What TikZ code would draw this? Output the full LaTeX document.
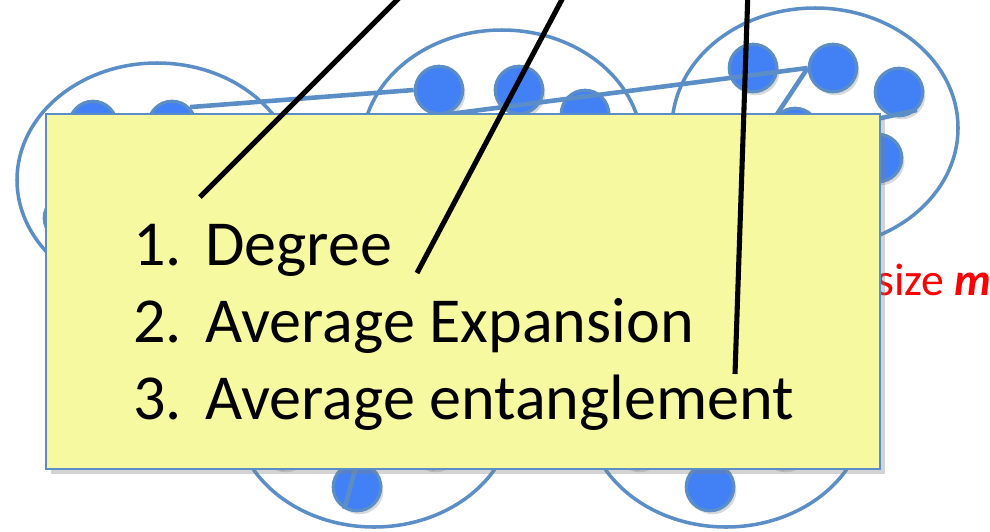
\documentclass[tikz,border=0pt]{standalone}
\usepackage{fontspec}
\setmainfont{Carlito}
\usetikzlibrary{shadows}
\tikzset{>=latex}
\definecolor{rimcol}{RGB}{91,142,198}
\definecolor{dotcol}{RGB}{66,128,245}
\definecolor{notecol}{RGB}{247,249,160}
\tikzstyle{cluster}=[rimcol,line width=2pt]
\tikzstyle{link}=[rimcol,line width=2.6pt]
\tikzstyle{dot}=[circle,fill=dotcol,draw=rimcol,line width=1.8pt,minimum size=0.95cm,inner sep=0pt,
  drop shadow={shadow xshift=1.5pt,shadow yshift=-2pt,opacity=0.3}]
\tikzstyle{pointer}=[black,line width=2.9pt]
\tikzstyle{item}=[anchor=base west,inner sep=0pt,font=\fontsize{36.5}{44}\selectfont]

\begin{document}
\begin{tikzpicture}[x=0.02cm,y=-0.02cm]
  \useasboundingbox (0,0) rectangle (990,531);
  \clip (0,0) rectangle (990,531);

  % CLUSTERS
  \draw[cluster] (157,180) ellipse [x radius=140,y radius=117];
  \draw[cluster] (502,147) ellipse [x radius=140,y radius=117];
  \draw[cluster] (815,128) ellipse [x radius=143,y radius=120];
  \draw[cluster] (374,410) ellipse [x radius=140,y radius=117];
  \draw[cluster] (726,410) ellipse [x radius=140,y radius=117];

  % VERTICES
  \node[dot] (a1) at (93,125) {};
  \node[dot] (a2) at (172,125) {};
  \node[dot] (a3) at (68,218) {};
  \node[dot] (b1) at (439,90) {};
  \node[dot] (b2) at (519,90) {};
  \node[dot] (b3) at (585,114) {};
  \node[dot] (c1) at (753,68) {};
  \node[dot] (c2) at (833,68) {};
  \node[dot] (c3) at (899,92) {};
  \node[dot] (c4) at (795,132) {};
  \node[dot] (c5) at (878,158) {};
  \node[dot] (d1) at (357,487) {};
  \node[dot] (d2) at (283,445) {};
  \node[dot] (d3) at (433,445) {};
  \node[dot] (e1) at (710,487) {};
  \node[dot] (e2) at (637,445) {};
  \node[dot] (e3) at (783,445) {};
  \coordinate (d0) at (366,430);

  % EDGES
  \draw[link] (a2.45) -- (b1.west);
  \draw[link] (b1.south) -- (c2.west);
  \draw[link] (c2.west) -- (c4.north west);
  \draw[link] (c4.east) -- (c3.south east);
  \draw[link] (d0) -- (d1.240);

  \node[anchor=base east,inner sep=0pt,red,font=\fontsize{26}{31}\selectfont] (sz) at (992,295)
    {size \textbf{\textit{m}}};

  % NOTE
  \node[fill=notecol,draw=rimcol,line width=0.8pt,minimum width=16.68cm,minimum height=7.1cm,
    drop shadow={shadow xshift=3pt,shadow yshift=-3pt,opacity=0.35}] (note) at (463,291.5) {};
  \node[item] (deg) at (133,265) {\makebox[1.44cm][l]{1.}Degree};
  \node[item] (exp) at (133,342) {\makebox[1.44cm][l]{2.}Average Expansion};
  \node[item] (ent) at (133,419) {\makebox[1.44cm][l]{3.}Average entanglement};

  % POINTERS
  \coordinate (t1) at (407,-10);
  \coordinate (t2) at (567,-10);
  \coordinate (t3) at (748,-10);
  \coordinate (p1) at (200,197);
  \coordinate (p2) at (417,273);
  \coordinate (p3) at (735,374);
  \draw[pointer] (t1) -- (p1);
  \draw[pointer] (t2) -- (p2);
  \draw[pointer] (t3) -- (p3);
\end{tikzpicture}
\end{document}
